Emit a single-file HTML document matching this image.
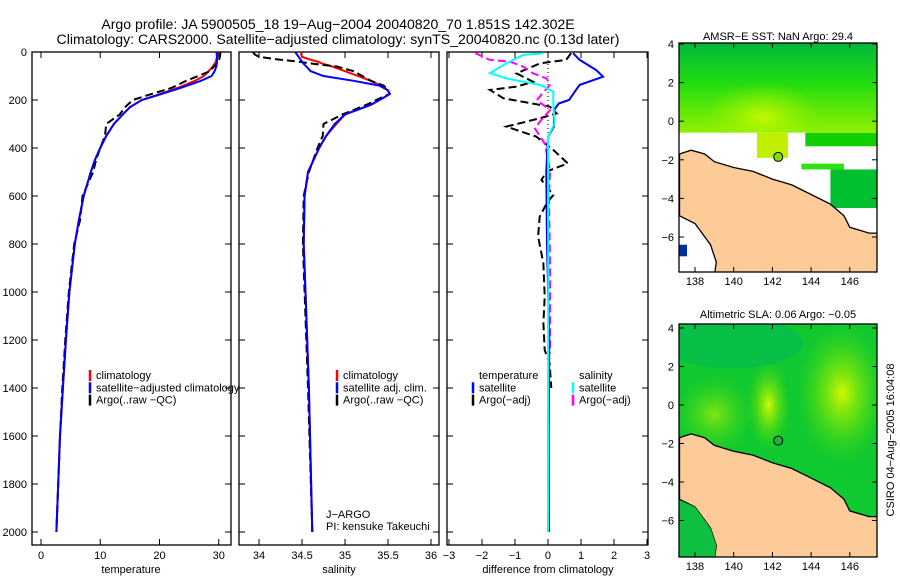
<!DOCTYPE html>
<html><head><meta charset="utf-8"><style>
body{margin:0;background:#fff;}
svg{display:block;font-family:"Liberation Sans",sans-serif;}
text{fill:#000;}
</style></head><body>
<svg id="fig" width="900" height="580" viewBox="0 0 900 580" xmlns="http://www.w3.org/2000/svg">
<text x="338" y="29" font-size="14.1" text-anchor="middle">Argo profile: JA 5900505_18 19−Aug−2004 20040820_70 1.851S 142.302E</text>
<text x="338" y="44" font-size="14.1" text-anchor="middle">Climatology: CARS2000. Satellite−adjusted climatology: synTS_20040820.nc (0.13d later)</text>
<g id="plots"></g>
<text x="131" y="573" font-size="11" text-anchor="middle">temperature</text>
<text x="339" y="573" font-size="11" text-anchor="middle">salinity</text>
<text x="548" y="573" font-size="11" text-anchor="middle">difference from climatology</text>
<text x="326" y="518" font-size="11">J−ARGO</text>
<text x="326" y="530" font-size="11">PI: kensuke Takeuchi</text>
<text x="778" y="40" font-size="11" text-anchor="middle">AMSR−E SST: NaN Argo: 29.4</text>
<text x="778" y="318" font-size="11" text-anchor="middle">Altimetric SLA: 0.06 Argo: −0.05</text>
<text x="0" y="0" font-size="11" text-anchor="middle" transform="translate(894,440) rotate(-90)">CSIRO 04−Aug−2005 16:04:08</text>
</svg>
<script>
// ---- data ----
const depthTicks=[0,200,400,600,800,1000,1200,1400,1600,1800,2000];
const tempTicks=[0,10,20,30];
const salTicks=[34,34.5,35,35.5,36];
const diffTicks=[-3,-2,-1,0,1,2,3];
const depthT=[0,20,40,60,80,100,120,150,180,200,230,260,300,350,400,450,500,600,700,800,1000,1200,1400,1600,1800,2000];
const climT=[29.8,29.7,29.5,29.0,28.3,27.5,26,23,19.5,17,15,13.8,12.3,11,10,9.1,8.4,7.2,6.4,5.7,4.8,4.2,3.7,3.2,2.9,2.6];
const satT=[29.6,29.7,29.7,29.6,29.3,28.8,27,23.5,19.7,17,15,13.8,12.3,11,10,9.1,8.4,7.2,6.4,5.7,4.8,4.2,3.7,3.2,2.9,2.6];
const argoT=[30.3,30.2,30,29.2,28.5,26.5,24.5,22,18,15.5,14.2,13.3,11,10.8,10,9.3,8.8,7,6.6,5.6,4.7,4.1,3.6,3.2,2.9,2.6];
const depthS=[0,10,20,30,40,50,60,80,100,120,140,160,175,190,220,260,300,350,400,500,600,800,1000,1400,2000];
const climS=[34.49,34.49,34.5,34.58,34.68,34.75,34.85,35.0,35.15,35.3,35.42,35.5,35.52,35.45,35.3,35.0,34.9,34.78,34.7,34.57,34.53,34.52,34.54,34.58,34.62];
const satS=[34.42,34.44,34.46,34.48,34.5,34.52,34.55,34.6,34.75,35.1,35.4,35.5,35.52,35.45,35.3,35.0,34.88,34.78,34.7,34.57,34.53,34.52,34.54,34.58,34.62];
const argoS=[33.93,33.95,34.0,34.2,34.45,34.65,34.9,35.1,35.2,35.3,35.45,35.5,35.52,35.42,35.25,34.97,34.75,34.74,34.68,34.58,34.52,34.51,34.53,34.57,34.62];
const dDepthTs=[5,33,75,103,137,158,200,214,242,311,353,500,800,1200,1600,2000];
const dTsat=[0.76,0.96,1.46,1.67,0.96,0.85,0.64,0.33,0.18,0.18,0,-0.05,-0.03,0.04,0.02,0.03];
const dDepthSs=[5,12,47,88,110,137,165,214,297,353,600,1000,1500,2000];
const dSsat=[-0.14,-0.75,-1.26,-1.76,-1.26,-0.24,0.16,0.16,0.2,0,0,0.01,0,0];
const dDepthTa=[5,33,47,89,124,144,158,193,228,256,276,311,353,408,464,498,533,596,631,686,769,881,1019,1131,1242,1297,1400];
const dTargo=[0.7,0.55,-0.24,-0.95,-0.45,-0.95,-1.76,-1.35,0.06,0.26,-0.24,-1.26,-0.35,0.16,0.6,-0.04,-0.2,0.16,-0.04,-0.25,-0.3,-0.14,-0.1,-0.14,-0.1,0.05,0.1];
const dDepthSa=[5,33,40,61,89,110,137,200,242,283,318,381,492,603,881,1256];
const dSargo=[-2.2,-1.76,-1.15,-0.75,-0.45,-0.04,0.06,-0.34,0.06,-0.2,-0.4,-0.1,0.06,0.03,0.06,0.06];
const lonTicks=[138,140,142,144,146];
const latTicks=[4,2,0,-2,-4,-6];
const argoPos=[142.3,-1.85];

const NS="http://www.w3.org/2000/svg";
const root=document.getElementById('plots');
function mk(tag,attrs,parent){const e=document.createElementNS(NS,tag);for(const k in attrs)e.setAttribute(k,attrs[k]);(parent||root).appendChild(e);return e;}
const yTop=52,yPer=48/200,yBot=545;
const yD=d=>yTop+d*yPer;
function panel(x0,x1,xmin,xmax,ticks,labelY,name){
  const sx=v=>x0+(v-xmin)/(xmax-xmin)*(x1-x0);
  const g=mk('g',{});
  
  
  const r=mk('rect',{x:x0,y:yTop,width:x1-x0,height:yBot-yTop,fill:'none',stroke:'#000','stroke-width':1.3},g);
  
  
  ticks.forEach(t=>{const x=sx(t);
    mk('line',{x1:x,x2:x,y1:yBot,y2:yBot-6,stroke:'#000'},g);
    mk('line',{x1:x,x2:x,y1:yTop,y2:yTop+6,stroke:'#000'},g);
    const tx=mk('text',{x:x,y:559,'font-size':11,'text-anchor':'middle'},g);tx.textContent=String(t).replace('-','−');
    
    });
  depthTicks.forEach(d=>{const y=yD(d);
    mk('line',{x1:x0,x2:x0+6,y1:y,y2:y,stroke:'#000'},g);
    mk('line',{x1:x1,x2:x1-6,y1:y,y2:y,stroke:'#000'},g);
    if(labelY){const tx=mk('text',{x:27,y:y+4,'font-size':11,'text-anchor':'end'},g);tx.textContent=d;
      
      }});
  return {sx,g};
}
function line(p,depths,vals,color,dash,name,w){
  const pts=depths.map((d,i)=>p.sx(vals[i]).toFixed(1)+','+yD(d).toFixed(1)).join(' ');
  const l=mk('polyline',{points:pts,fill:'none',stroke:color,'stroke-width':w||2,'stroke-dasharray':dash||'none'},p.g);
  
  
}
function legend(p,x,items){
  items.forEach((it,i)=>{const y=379+i*12.3;
    mk('line',{x1:x,x2:x,y1:y-9,y2:y+2,stroke:it[1],'stroke-width':2.5},p.g);
    const t=mk('text',{x:x+6,y:y,'font-size':11},p.g);t.textContent=it[0];
    
    });
}
const p1=panel(32,231,-1.52,32.07,tempTicks,true,'temperature-panel');
line(p1,depthT,climT,'#f00',null,'temperature-climatology-line');
line(p1,depthT,argoT,'#000','8,4','temperature-argo-line');
line(p1,depthT,satT,'#00f',null,'temperature-satellite-line');
legend(p1,90,[['climatology','#f00'],['satellite−adjusted climatology','#00f'],['Argo(..raw −QC)','#000']]);
const p2=panel(239,439,33.767,36.093,salTicks,false,'salinity-panel');
line(p2,depthS,climS,'#f00',null,'salinity-climatology-line');
line(p2,depthS,argoS,'#000','8,4','salinity-argo-line');
line(p2,depthS,satS,'#00f',null,'salinity-satellite-line');
legend(p2,337,[['climatology','#f00'],['satellite adj. clim.','#00f'],['Argo(..raw −QC)','#000']]);
const p3=panel(447,648,-3.06,3.03,diffTicks,false,'difference-panel');
const z=mk('line',{x1:p3.sx(0),x2:p3.sx(0),y1:yTop,y2:yD(2000),stroke:'#000','stroke-dasharray':'1,3'},p3.g);


line(p3,dDepthTa,dTargo,'#000','8,4','temp-argo-diff-line');
line(p3,dDepthSa,dSargo,'#f0f','8,4','sal-argo-diff-line');
line(p3,dDepthTs,dTsat,'#00f',null,'temp-satellite-diff-line');
line(p3,dDepthSs,dSsat,'#0ff',null,'sal-satellite-diff-line');
legend(p3,473,[['temperature','#fff'],['satellite','#00f'],['Argo(−adj)','#000']]);
legend(p3,573,[['salinity','#fff'],['satellite','#0ff'],['Argo(−adj)','#f0f']]);

// ---- maps ----
function map(y0,y1,lat4y,name,kind){
  const x0=679,x1=877;
  const pxDeg=(y0===43)?19.3:19.25;
  const lx=l=>695+(l-138)*19.35;
  const ly=a=>lat4y+(4-a)*pxDeg;
  const g=mk('g',{});
  
  
  const cid='clip'+y0;
  const cp=mk('clipPath',{id:cid},g);mk('rect',{x:x0,y:y0,width:x1-x0,height:y1-y0},cp);
  const c=mk('g',{'clip-path':'url(#'+cid+')'},g);
  const defs=mk('defs',{},g);
  if(kind==='sst'){
    const lg=mk('linearGradient',{id:'gs',x1:0,y1:0,x2:0,y2:1},defs);
    mk('stop',{offset:0,'stop-color':'#00b83a'},lg);mk('stop',{offset:0.45,'stop-color':'#22dc10'},lg);mk('stop',{offset:1,'stop-color':'#90f000'},lg);
    mk('rect',{x:x0,y:y0,width:198,height:ly(-0.6)-y0,fill:'url(#gs)'},c);
    const rg1=mk('radialGradient',{id:'ys'},defs);
    mk('stop',{offset:0,'stop-color':'#c0f800'},rg1);mk('stop',{offset:1,'stop-color':'#90f000','stop-opacity':0},rg1);
    mk('ellipse',{cx:lx(141.5),cy:ly(0.2),rx:60,ry:35,fill:'url(#ys)'},c);
    mk('rect',{x:x0,y:ly(-0.6),width:198,height:y1-ly(-0.6),fill:'#fff'},c);
    mk('rect',{x:lx(141.2),y:ly(-0.6),width:lx(142.8)-lx(141.2),height:ly(-1.9)-ly(-0.6),fill:'#c0f000'},c);
    mk('rect',{x:lx(143.7),y:ly(-0.6),width:lx(147.4)-lx(143.7),height:ly(-1.3)-ly(-0.6),fill:'#10d000'},c);
    mk('rect',{x:lx(143.5),y:ly(-2.2),width:lx(145.7)-lx(143.5),height:ly(-2.5)-ly(-2.2),fill:'#30e010'},c);
    mk('rect',{x:lx(145.0),y:ly(-2.5),width:lx(147.4)-lx(145.0),height:ly(-4.5)-ly(-2.5),fill:'#00c030'},c);
    mk('rect',{x:x0,y:ly(-6.4),width:8,height:ly(-7.0)-ly(-6.4),fill:'#0030a0'},c);
  } else {
    mk('rect',{x:x0,y:y0,width:198,height:y1-y0,fill:'#10c830'},c);
    const rg=mk('radialGradient',{id:'ry'},defs);
    mk('stop',{offset:0,'stop-color':'#d0f800'},rg);mk('stop',{offset:1,'stop-color':'#50e000','stop-opacity':0},rg);
    mk('ellipse',{cx:lx(145.6),cy:ly(0.6),rx:45,ry:70,fill:'url(#ry)'},c);
    mk('ellipse',{cx:lx(141.8),cy:ly(0),rx:22,ry:45,fill:'url(#ry)'},c);
    mk('ellipse',{cx:lx(139),cy:ly(-0.5),rx:40,ry:40,fill:'url(#ry)',opacity:0.6},c);
    mk('ellipse',{cx:lx(140),cy:ly(3.2),rx:70,ry:25,fill:'#00b860',opacity:0.5},c);
  }
  const coast=[[137.2,-1.7],[137.8,-1.5],[138.5,-1.7],[139,-2.1],[140,-2.4],[141,-2.6],[142,-3.0],[143,-3.3],[144,-3.8],[145,-4.3],[145.7,-4.9],[146,-5.5],[147,-5.8],[147.5,-5.8],[147.5,-8],[139,-8],[139.1,-7.3],[138.8,-6.4],[138,-5.3],[137.2,-4.9]];
  const land=mk('polygon',{points:coast.map(p=>lx(p[0]).toFixed(1)+','+ly(p[1]).toFixed(1)).join(' '),fill:'#fccb98',stroke:'#000','stroke-width':1.3},c);
  
  
  if(kind!=='sst'){mk('polygon',{points:[[137.1,-4.9],[138,-5.3],[138.8,-6.4],[139.1,-7.3],[139,-8],[137.1,-8]].map(p=>lx(p[0])+','+ly(p[1])).join(' '),fill:'#10c040'},c);}
  const dot=mk('circle',{cx:lx(argoPos[0]),cy:ly(argoPos[1]),r:4.5,fill:kind==='sst'?'#80e000':'#20b040',stroke:'#000'},c);
  
  
  mk('rect',{x:x0,y:y0,width:x1-x0,height:y1-y0,fill:'none',stroke:'#000','stroke-width':1.3},g);
  lonTicks.forEach(l=>{const x=lx(l);mk('line',{x1:x,x2:x,y1:y1,y2:y1-5,stroke:'#000'},g);mk('line',{x1:x,x2:x,y1:y0,y2:y0+5,stroke:'#000'},g);
    const t=mk('text',{x:x,y:y1+13,'font-size':11,'text-anchor':'middle'},g);t.textContent=l;
    
    });
  latTicks.forEach(a=>{const y=ly(a);mk('line',{x1:x0,x2:x0+5,y1:y,y2:y,stroke:'#000'},g);mk('line',{x1:x1,x2:x1-5,y1:y,y2:y,stroke:'#000'},g);
    const t=mk('text',{x:674,y:y+4,'font-size':11,'text-anchor':'end'},g);t.textContent=String(a).replace('-','−');
    
    });
}
map(43,272,44,'sst-map','sst');
map(324,557,328,'sla-map','sla');
</script>
</body></html>
